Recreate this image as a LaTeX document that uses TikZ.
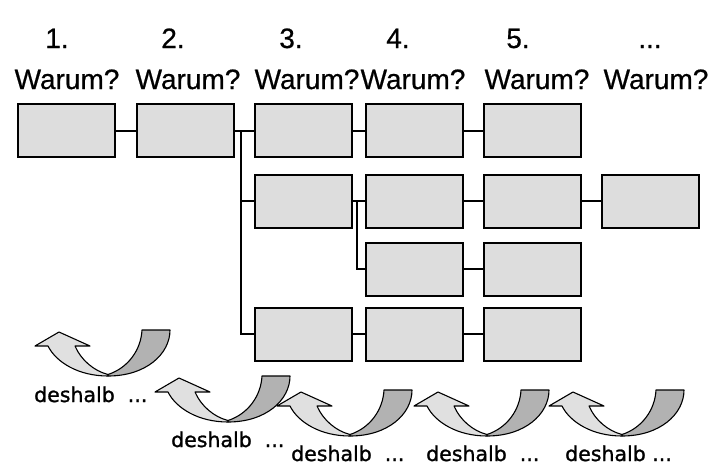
\documentclass[tikz,border=0pt]{standalone}
\usepackage{fontspec}
\setmainfont[FakeBold=0.6]{Liberation Sans}
\newfontfamily\labelfont[FakeBold=1.2]{DejaVu Sans}
\usetikzlibrary{positioning}

\definecolor{boxgray}{RGB}{221,221,221}
\definecolor{lightarrow}{RGB}{224,224,224}
\definecolor{darkarrow}{RGB}{178,178,178}

\begin{document}
\begin{tikzpicture}[
    x=1pt, y=-1pt,
    box/.style={
        draw, line width=2pt,
        fill=boxgray,
        minimum width=97pt,
        minimum height=53pt,
        inner sep=0pt
    },
    link/.style={line width=2pt},
    head/.style={font=\fontsize{28}{34}\selectfont, anchor=base, inner sep=0pt},
    note/.style={font=\labelfont\fontsize{20.5}{24}\selectfont, anchor=base west, inner sep=0pt},
    arrowline/.style={draw, line width=1.1pt, line join=round},
    pics/backarrow/.style={code={
        \draw[arrowline, fill=darkarrow]
          (0,2) .. controls (38,2) and (62,-20) .. (62,-44) -- (34,-44)
          .. controls (33,-24) and (20,-6) .. (0,0.5) -- cycle;
        \draw[arrowline, fill=lightarrow]
          (0,2) .. controls (-30,2) and (-52,-12) .. (-60,-28) -- (-73,-28)
          -- (-49,-42) -- (-18,-28) -- (-33,-28)
          .. controls (-27,-14) and (-14,-3) .. (0,0.5) -- cycle;
    }}
]
\useasboundingbox (0,0) rectangle (712,466);

% ===== HEADERS =====
\node[head] (n1) at (57,48) {1.};
\node[head] (n2) at (173,48) {2.};
\node[head] (n3) at (291,48) {3.};
\node[head] (n4) at (398,48) {4.};
\node[head] (n5) at (518,48) {5.};
\node[head] (n6) at (650,48) {...};

\node[head] (w1) at (67,89) {Warum?};
\node[head] (w2) at (188,89) {Warum?};
\node[head] (w3) at (307,89) {Warum?};
\node[head] (w4) at (413,89) {Warum?};
\node[head] (w5) at (537,89) {Warum?};
\node[head] (w6) at (656,89) {Warum?};

% ===== BOXES =====
\node[box] (a1) at (66.5,130.5) {};
\node[box] (a2) at (185,130.5) {};
\node[box] (a3) at (303,130.5) {};
\node[box] (a4) at (414,130.5) {};
\node[box] (a5) at (532,130.5) {};

\node[box] (b3) at (303,201) {};
\node[box] (b4) at (414,201) {};
\node[box] (b5) at (532,201) {};
\node[box] (b6) at (650,201) {};

\node[box] (c4) at (414,269) {};
\node[box] (c5) at (532,269) {};

\node[box] (d3) at (303,334) {};
\node[box] (d4) at (414,334) {};
\node[box] (d5) at (532,334) {};

% branch points
\coordinate (trunk) at (241,130.5);
\coordinate (fork) at (357,201);

% ===== LINKS =====
\draw[link] (a1) -- (a2);
\draw[link] (a2) -- (a3);
\draw[link] (a3) -- (a4);
\draw[link] (a4) -- (a5);
\draw[link] (trunk) |- (b3.west);
\draw[link] (trunk) |- (d3.west);
\draw[link] (b3) -- (b4);
\draw[link] (b4) -- (b5);
\draw[link] (b5) -- (b6);
\draw[link] (fork) |- (c4.west);
\draw[link] (c4) -- (c5);
\draw[link] (d3) -- (d4);
\draw[link] (d4) -- (d5);

% ===== U-TURN ARROWS =====
\pic (u1) at (108,374) {backarrow};
\pic (u2) at (228,420) {backarrow};
\pic (u3) at (350,434) {backarrow};
\pic (u4) at (487,434) {backarrow};
\pic (u5) at (622,434) {backarrow};

\node[note] (l1) at (34,402) {deshalb\ \ ...};
\node[note] (l2) at (171,447) {deshalb\ \ ...};
\node[note] (l3) at (291,461) {deshalb\ \ ...};
\node[note] (l4) at (426,461) {deshalb\ \ ...};
\node[note] (l5) at (565,461) {deshalb ...};

\end{tikzpicture}
\end{document}
